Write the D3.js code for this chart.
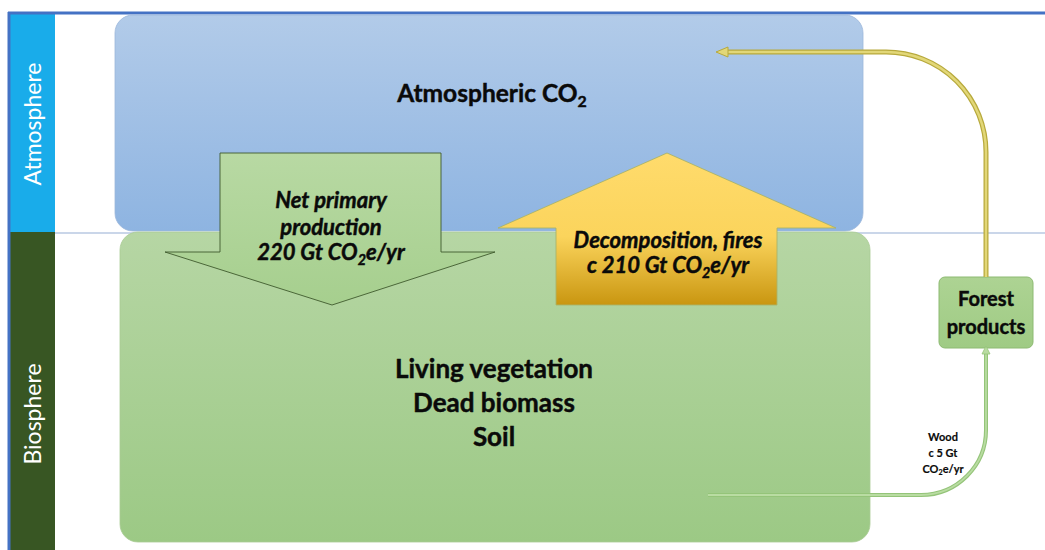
<!DOCTYPE html>
<html><head><meta charset="utf-8">
<script src="https://cdn.jsdelivr.net/npm/d3@7"></script>
<style>html,body{margin:0;padding:0;background:#fff;overflow:hidden}svg{display:block}</style>
</head><body>
<script>
// ---- data ----
const bands = ["Atmosphere", "Biosphere"];
const pools = ["Atmospheric CO", "Living vegetation", "Dead biomass", "Soil", "Forest products"];
const flowNames = ["Net primary production", "Decomposition, fires", "Wood"];
const flowValues = [220, 210, 5];
const flowUnit = "Gt CO2e/yr";

const W = 1045, H = 550;
const svg = d3.select("body").append("svg").attr("width", W).attr("height", H);
const defs = svg.append("defs");
function grad(id, stops) {
  const g = defs.append("linearGradient").attr("id", id).attr("x1", 0).attr("y1", 0).attr("x2", 0).attr("y2", 1);
  stops.forEach(([o, c]) => g.append("stop").attr("offset", o).attr("stop-color", c));
}
grad("gAtm", [[0, "#B2CBE9"], [1, "#8EB4E1"]]);
grad("gBio", [[0, "#B6D6A4"], [1, "#9CC985"]]);
grad("gNpp", [[0, "#B8D9A3"], [1, "#A6CF8E"]]);
grad("gDec", [[0, "#FFDB6C"], [0.55, "#FBD45C"], [1, "#C99610"]]);
grad("gFp", [[0, "#ADD393"], [1, "#9FCB84"]]);

const boundary = 232;

// side bands
svg.append("rect").attr("x", 10).attr("y", 14).attr("width", 45).attr("height", boundary - 14).attr("fill", "#19ACEA");
svg.append("rect").attr("x", 10).attr("y", boundary).attr("width", 45).attr("height", H - boundary).attr("fill", "#385623");
// frame lines
svg.append("line").attr("x1", 8).attr("x2", W).attr("y1", 13).attr("y2", 13).attr("stroke", "#4472C4").attr("stroke-width", 3);
svg.append("line").attr("x1", 9).attr("x2", 9).attr("y1", 12).attr("y2", H).attr("stroke", "#4472C4").attr("stroke-width", 3);

const FONT = "Lato, 'Open Sans', sans-serif";
const bandCenters = [124, 414];
svg.selectAll("text.band").data(bands).join("text")
  .attr("class", "band")
  .attr("transform", (d, i) => `translate(41,${bandCenters[i]}) rotate(-90)`)
  .attr("text-anchor", "middle")
  .attr("font-family", FONT)
  .attr("font-size", 23)
  .attr("fill", "#fff")
  .text(d => d);

// boundary line
svg.append("line").attr("x1", 55).attr("x2", W).attr("y1", boundary + 1).attr("y2", boundary + 1)
  .attr("stroke", "#B9C9E2").attr("stroke-width", 1.5);

// pool boxes
svg.append("rect").attr("x", 115).attr("y", 15).attr("width", 748).attr("height", 216).attr("rx", 18)
  .attr("fill", "url(#gAtm)").attr("stroke", "#9DB8DA").attr("stroke-width", 0.8);
svg.append("rect").attr("x", 120).attr("y", 232).attr("width", 750).attr("height", 310).attr("rx", 18)
  .attr("fill", "url(#gBio)").attr("stroke", "#A9CB94").attr("stroke-width", 0.8);

// NPP arrow (down)
const npp = d3.path();
npp.moveTo(220, 153); npp.lineTo(441, 153); npp.lineTo(441, 252); npp.lineTo(495, 252);
npp.lineTo(332, 305); npp.lineTo(165, 252); npp.lineTo(220, 252); npp.closePath();
svg.append("path").attr("d", npp.toString()).attr("fill", "url(#gNpp)")
  .attr("stroke", "#3F5A2E").attr("stroke-width", 0.9);

// Decomposition arrow (up)
const dec = d3.path();
dec.moveTo(667, 153); dec.lineTo(836, 228); dec.lineTo(777, 228); dec.lineTo(777, 305);
dec.lineTo(556, 305); dec.lineTo(556, 228); dec.lineTo(498, 228); dec.closePath();
svg.append("path").attr("d", dec.toString()).attr("fill", "url(#gDec)")
  .attr("stroke", "#A9B36A").attr("stroke-width", 0.9);

// Forest products box
svg.append("rect").attr("x", 939).attr("y", 277).attr("width", 94).attr("height", 71).attr("rx", 6)
  .attr("fill", "url(#gFp)").attr("stroke", "#8DBA72").attr("stroke-width", 1);

// flow to atmosphere from forest products (yellow)
const up = d3.path();
up.moveTo(986, 277); up.lineTo(986, 152); up.arcTo(986, 52, 886, 52, 100); up.lineTo(726, 52);
svg.append("path").attr("d", up.toString()).attr("fill", "none").attr("stroke", "#B7A93C").attr("stroke-width", 5);
svg.append("path").attr("d", up.toString()).attr("fill", "none").attr("stroke", "#E2D778").attr("stroke-width", 2.5);
svg.append("path").attr("d", "M716,52 L728,47 L728,57 Z").attr("fill", "#E2D778").attr("stroke", "#B7A93C").attr("stroke-width", 1);

// wood flow from biosphere to forest products (green)
const wood = d3.path();
wood.moveTo(708, 495); wood.lineTo(921, 495); wood.arcTo(986, 495, 986, 430, 65); wood.lineTo(986, 352);
svg.append("path").attr("d", wood.toString()).attr("fill", "none").attr("stroke", "#94C479").attr("stroke-width", 4);
svg.append("path").attr("d", wood.toString()).attr("fill", "none").attr("stroke", "#B9DCA2").attr("stroke-width", 1.8);
svg.append("path").attr("d", "M986,346 L982,354 L990,354 Z").attr("fill", "#B9DCA2").attr("stroke", "#94C479").attr("stroke-width", 0.8);

// ---- text ----
function co2(sel, before, after, size) {
  sel.append("tspan").text(before + "CO");
  sel.append("tspan").attr("font-size", size * 0.65).attr("dy", size * 0.22).text("2");
  sel.append("tspan").attr("dy", -size * 0.22).text(after);
}
function label(x, yb, size, opts) {
  return svg.append("text").attr("x", x).attr("y", yb).attr("text-anchor", "middle")
    .attr("font-family", FONT).attr("font-weight", "bold").attr("font-size", size)
    .attr("font-style", opts && opts.italic ? "italic" : "normal").attr("fill", "#0A0A0A")
    .attr("stroke", "#0A0A0A").attr("stroke-width", size > 14 ? 0.45 : 0.15);
}

// Atmospheric CO2
co2(label(492, 102, 24.5), pools[0].replace("CO", ""), "", 24.5);

// Living vegetation, Dead biomass, Soil
[pools[1], pools[2], pools[3]].forEach((t, i) => label(494, 378 + i * 34, 26).text(t));

// Forest products
label(986, 306, 20).text(pools[4].split(" ")[0]);
label(986, 334, 20).text(pools[4].split(" ")[1]);

// NPP label
const unitTail = flowUnit.split("CO2")[1];
const nppWords = flowNames[0].split(" ");
label(331, 208, 22, { italic: true }).text(nppWords.slice(0, 2).join(" "));
label(331, 235, 22, { italic: true }).text(nppWords[2]);
co2(label(331, 260, 22, { italic: true }), flowValues[0] + " Gt ", unitTail, 22);

// Decomposition label
label(668, 248, 22, { italic: true }).text(flowNames[1]);
co2(label(668, 273, 22, { italic: true }), "c " + flowValues[1] + " Gt ", unitTail, 22);

// Wood label
label(943, 441, 11).text(flowNames[2]);
label(943, 457, 11).text("c " + flowValues[2] + " Gt");
co2(label(943, 473, 11), "", unitTail, 11);
</script>
</body></html>
